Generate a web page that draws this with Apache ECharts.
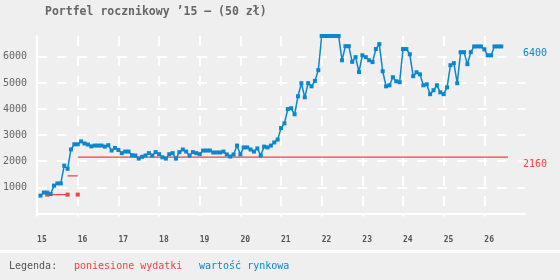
<!DOCTYPE html>
<html>
<head>
    <meta charset="utf-8">
    <title>Portfel rocznikowy</title>
    <script type="text/javascript" src="https://cdn.jsdelivr.net/npm/echarts@6/dist/echarts.min.js"></script>
    <style>
        html, body { margin: 0; padding: 0; background: #efefef; }
    </style>
</head>
<body>
	<div id="main" style="height:280px; width:560px;"></div>
	<script type="text/javascript">
	// wartość rynkowa - monthly values, first one is Feb 2015
	var startYear = 2015;
	var startMonth = 2;
	var marketValues = [
		680, 800, 800, 740, 1065, 1150, 1150, 1830, 1710, 2450, 2650, 2650,
		2760, 2680, 2640, 2570, 2600, 2600, 2600, 2560, 2615, 2410, 2510, 2430,
		2310, 2370, 2370, 2230, 2220, 2100, 2170, 2220, 2310, 2220, 2350, 2270,
		2150, 2100, 2270, 2310, 2100, 2350, 2450, 2370, 2220, 2350, 2310, 2270,
		2410, 2410, 2410, 2335, 2335, 2335, 2370, 2260, 2180, 2260, 2600, 2260,
		2530, 2530, 2450, 2370, 2490, 2220, 2560, 2530, 2600, 2720, 2830, 3270,
		3450, 4000, 4030, 3800, 4490, 4990, 4450, 4990, 4870, 5080, 5490, 6800,
		6800, 6800, 6800, 6800, 6800, 5870, 6410, 6410, 5810, 5990, 5420, 6060,
		5990, 5870, 5800, 6300, 6490, 5450, 4870, 4910, 5220, 5065, 5030, 6300,
		6300, 6100, 5260, 5410, 5330, 4910, 4950, 4570, 4720, 4910, 4640, 4570,
		4830, 5680, 5760, 4990, 6180, 6180, 5720, 6180, 6400, 6400, 6400, 6290,
		6060, 6060, 6400, 6400, 6400
	];
	// poniesione wydatki
	var purchaseDates = [2015.25, 2015.75, 2016.0];
	var purchaseAmounts = [720, 720, 720];
	var expenseEnd = 2026.58;
	var lastMarket = 6400;
	var totalExpense = 2160;
	var yearTicks = ['15', '16', '17', '18', '19', '20', '21', '22', '23', '24', '25', '26'];

	var BLUE = '#0b87d0';
	var RED = '#ee4444';
	var FONT = 'DejaVu Sans Mono';

	var marketData = marketValues.map(function(v, i){
		return [startYear + (startMonth - 1 + i) / 12, v];
	});
	var purchaseData = purchaseDates.map(function(d, i){ return [d, purchaseAmounts[i]]; });

	// cumulative expenses as separate flat segments
	var cumulData = [];
	var sum = 0;
	purchaseDates.forEach(function(d, i){
		sum += purchaseAmounts[i];
		var next = i < purchaseDates.length - 1 ? purchaseDates[i + 1] : expenseEnd;
		if (i > 0) cumulData.push([d, '-']);
		cumulData.push([d, sum]);
		cumulData.push([next, sum]);
	});

	var myChart = echarts.init(document.getElementById('main'), null, {renderer: 'canvas'});
	var gridLine = {show: true, showMinLine: false, showMaxLine: false,
		lineStyle: {color: '#ffffff', width: 2, type: [10, 10]}};

	var option = {
		backgroundColor: '#efefef',
		animation: false,
		title: {
			text: 'Portfel rocznikowy \u201915 \u2013 (50 z\u0142)',
			left: 45, top: 6, padding: 0,
			textStyle: {fontFamily: FONT, fontSize: 11.5, fontWeight: 'bold', color: '#666'}
		},
		grid: {left: 36, right: 35, top: 36, bottom: 66.6, containLabel: false},
		xAxis: {
			type: 'value', min: 2015, max: 2027, interval: 1,
			axisLine: {lineStyle: {color: '#ffffff', width: 2}},
			axisTick: {show: true, length: 3, lineStyle: {color: '#ffffff', width: 2}},
			axisLabel: {
				showMaxLabel: false, align: 'left', margin: 23,
				fontFamily: FONT, fontSize: 8, fontWeight: 'bold', color: '#555',
				formatter: function(v){ return yearTicks[v - 2015] || ''; }
			},
			splitLine: gridLine
		},
		yAxis: {
			type: 'value', min: 0, max: 6800, interval: 1000,
			axisLine: {show: true, lineStyle: {color: '#ffffff', width: 2}},
			axisTick: {show: false},
			axisLabel: {
				showMinLabel: false, showMaxLabel: false, margin: 10,
				fontFamily: FONT, fontSize: 10, color: '#666',
				padding: [6, 0, 0, 0],
				formatter: function(v){ return String(v); }
			},
			splitLine: gridLine
		},
		graphic: [
			{type: 'rect', left: 0, top: 250, shape: {width: 560, height: 3}, style: {fill: '#ffffff'}},
			{type: 'text', left: 9, top: 261, style: {text: 'Legenda:', fill: '#555', font: '10px "DejaVu Sans Mono"'}},
			{type: 'text', left: 74, top: 261, style: {text: 'poniesione wydatki', fill: RED, font: '10px "DejaVu Sans Mono"'}},
			{type: 'text', left: 199, top: 261, style: {text: 'warto\u015b\u0107 rynkowa', fill: BLUE, font: '10px "DejaVu Sans Mono"'}}
		],
		series: [
			{
				name: 'poniesione wydatki', type: 'line', data: cumulData,
				showSymbol: false, clip: false, connectNulls: false,
				lineStyle: {color: RED, width: 1.2},
				markPoint: {
					symbol: 'rect', symbolSize: 0,
					data: [{coord: [2027, totalExpense], value: totalExpense}],
					label: {show: true, position: 'inside', align: 'left', verticalAlign: 'middle',
						offset: [-2, 7], color: RED, fontFamily: FONT, fontSize: 10,
						formatter: String(totalExpense)}
				}
			},
			{
				name: 'zakupy', type: 'scatter', data: purchaseData,
				symbol: 'rect', symbolSize: 4, itemStyle: {color: RED, opacity: 1}
			},
			{
				name: 'warto\u015b\u0107 rynkowa', type: 'line', data: marketData,
				symbol: 'rect', symbolSize: 4, clip: false,
				itemStyle: {color: BLUE},
				lineStyle: {color: BLUE, width: 1.5},
				markPoint: {
					symbol: 'rect', symbolSize: 0,
					data: [{coord: [2027, lastMarket], value: lastMarket}],
					label: {show: true, position: 'inside', align: 'left', verticalAlign: 'middle',
						offset: [-2, 7], color: BLUE, fontFamily: FONT, fontSize: 10,
						formatter: String(lastMarket)}
				}
			}
		]
	};
	myChart.setOption(option);
	</script>
</body>
</html>
